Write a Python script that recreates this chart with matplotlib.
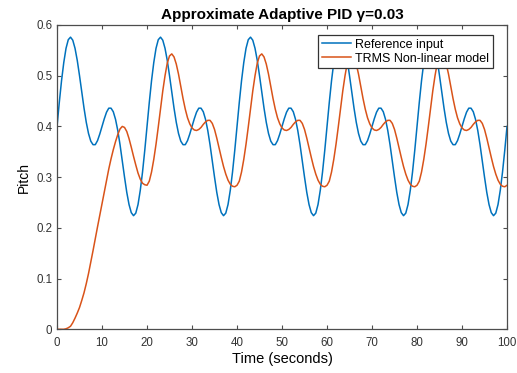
import matplotlib
matplotlib.use("Agg")
import matplotlib.pyplot as plt
import numpy as np

plt.rcParams['font.family'] = ['Liberation Sans', 'DejaVu Sans']

# time axis [s], one reading every half second
time_s = np.arange(0, 100.5, 0.5)

# reference input
reference = [
    0.400, 0.447, 0.490, 0.526, 0.554, 0.571, 0.576, 0.570, 0.554, 0.530,
    0.500, 0.468, 0.436, 0.408, 0.386, 0.371, 0.364, 0.364, 0.372, 0.385,
    0.400, 0.415, 0.428, 0.436, 0.436, 0.429, 0.414, 0.392, 0.364, 0.332,
    0.300, 0.270, 0.246, 0.230, 0.224, 0.229, 0.246, 0.274, 0.310, 0.353,
    0.400, 0.447, 0.490, 0.526, 0.554, 0.571, 0.576, 0.570, 0.554, 0.530,
    0.500, 0.468, 0.436, 0.408, 0.386, 0.371, 0.364, 0.364, 0.372, 0.385,
    0.400, 0.415, 0.428, 0.436, 0.436, 0.429, 0.414, 0.392, 0.364, 0.332,
    0.300, 0.270, 0.246, 0.230, 0.224, 0.229, 0.246, 0.274, 0.310, 0.353,
    0.400, 0.447, 0.490, 0.526, 0.554, 0.571, 0.576, 0.570, 0.554, 0.530,
    0.500, 0.468, 0.436, 0.408, 0.386, 0.371, 0.364, 0.364, 0.372, 0.385,
    0.400, 0.415, 0.428, 0.436, 0.436, 0.429, 0.414, 0.392, 0.364, 0.332,
    0.300, 0.270, 0.246, 0.230, 0.224, 0.229, 0.246, 0.274, 0.310, 0.353,
    0.400, 0.447, 0.490, 0.526, 0.554, 0.571, 0.576, 0.570, 0.554, 0.530,
    0.500, 0.468, 0.436, 0.408, 0.386, 0.371, 0.364, 0.364, 0.372, 0.385,
    0.400, 0.415, 0.428, 0.436, 0.436, 0.429, 0.414, 0.392, 0.364, 0.332,
    0.300, 0.270, 0.246, 0.230, 0.224, 0.229, 0.246, 0.274, 0.310, 0.353,
    0.400, 0.447, 0.490, 0.526, 0.554, 0.571, 0.576, 0.570, 0.554, 0.530,
    0.500, 0.468, 0.436, 0.408, 0.386, 0.371, 0.364, 0.364, 0.372, 0.385,
    0.400, 0.415, 0.428, 0.436, 0.436, 0.429, 0.414, 0.392, 0.364, 0.332,
    0.300, 0.270, 0.246, 0.230, 0.224, 0.229, 0.246, 0.274, 0.310, 0.353,
    0.400,
]

# TRMS non-linear model response
trms = [
    0.000, 0.000, 0.000, 0.000, 0.001, 0.003, 0.006, 0.013, 0.022, 0.032,
    0.043, 0.057, 0.072, 0.090, 0.110, 0.132, 0.155, 0.179, 0.202, 0.225,
    0.248, 0.271, 0.294, 0.316, 0.336, 0.354, 0.370, 0.384, 0.395, 0.400,
    0.398, 0.390, 0.376, 0.359, 0.341, 0.324, 0.308, 0.296, 0.288, 0.285,
    0.284, 0.292, 0.310, 0.335, 0.365, 0.399, 0.435, 0.470, 0.500, 0.525,
    0.539, 0.543, 0.537, 0.523, 0.503, 0.479, 0.455, 0.434, 0.417, 0.405,
    0.397, 0.393, 0.392, 0.394, 0.398, 0.404, 0.409, 0.412, 0.412, 0.406,
    0.394, 0.377, 0.358, 0.339, 0.321, 0.306, 0.294, 0.286, 0.282, 0.281,
    0.284, 0.292, 0.310, 0.335, 0.365, 0.399, 0.435, 0.470, 0.500, 0.525,
    0.539, 0.543, 0.537, 0.523, 0.503, 0.479, 0.455, 0.434, 0.417, 0.405,
    0.397, 0.393, 0.392, 0.394, 0.398, 0.404, 0.409, 0.412, 0.412, 0.406,
    0.394, 0.377, 0.358, 0.339, 0.321, 0.306, 0.294, 0.286, 0.282, 0.281,
    0.284, 0.292, 0.310, 0.335, 0.365, 0.399, 0.435, 0.470, 0.500, 0.525,
    0.539, 0.543, 0.537, 0.523, 0.503, 0.479, 0.455, 0.434, 0.417, 0.405,
    0.397, 0.393, 0.392, 0.394, 0.398, 0.404, 0.409, 0.412, 0.412, 0.406,
    0.394, 0.377, 0.358, 0.339, 0.321, 0.306, 0.294, 0.286, 0.282, 0.281,
    0.284, 0.292, 0.310, 0.335, 0.365, 0.399, 0.435, 0.470, 0.500, 0.525,
    0.539, 0.543, 0.537, 0.523, 0.503, 0.479, 0.455, 0.434, 0.417, 0.405,
    0.397, 0.393, 0.392, 0.394, 0.398, 0.404, 0.409, 0.412, 0.412, 0.406,
    0.394, 0.377, 0.358, 0.339, 0.321, 0.306, 0.294, 0.286, 0.282, 0.281,
    0.284,
]

fig = plt.figure(figsize=(5.17, 3.73), dpi=100)
ax = fig.add_axes([0.1103, 0.1172, 0.8704, 0.8158])

ax.plot(time_s, reference, color='#0072BD', lw=1.1, label='Reference input')
ax.plot(time_s, trms, color='#D95319', lw=1.1, label='TRMS Non-linear model')

ax.set_xlim(0, 100)
ax.set_ylim(0, 0.6)
ax.set_xticks(np.arange(0, 101, 10))
ax.set_yticks(np.arange(0, 0.61, 0.1))
ax.set_yticklabels(['0', '0.1', '0.2', '0.3', '0.4', '0.5', '0.6'])

axis_grey = '#4d4d4d'
for sp in ax.spines.values():
    sp.set_color(axis_grey)
    sp.set_linewidth(0.9)
ax.tick_params(direction='in', length=3, width=0.8, color=axis_grey,
               labelcolor='#333333', labelsize=8.3, top=True, right=True)
ax.tick_params(axis='x', pad=5.5)
ax.tick_params(axis='y', pad=3.5)

ax.set_title('Approximate Adaptive PID γ=0.03', fontsize=11, fontweight='bold', pad=4)
ax.set_xlabel('Time (seconds)', fontsize=10.5, labelpad=2.5)
ax.set_ylabel('Pitch', fontsize=10, labelpad=3.7)

leg = ax.legend(loc='upper right', bbox_to_anchor=(0.969, 0.967), borderaxespad=0,
                fontsize=9, handlelength=2.3, handletextpad=0.35, labelspacing=0.15,
                borderpad=0.3, fancybox=False, framealpha=1, edgecolor='#333333')
leg.get_frame().set_linewidth(0.9)

fig.savefig('out.png', dpi=100)
